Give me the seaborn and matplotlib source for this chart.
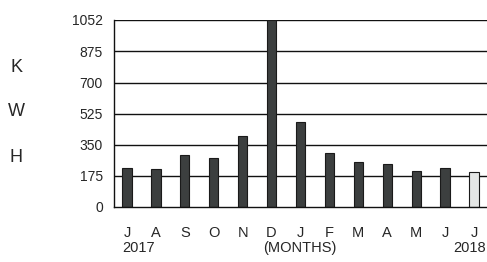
import matplotlib
matplotlib.use("Agg")
import matplotlib.pyplot as plt
import pandas as pd
import seaborn as sns

# 월별 사용량 (kWh)
months = ["Jul 2017", "Aug 2017", "Sep 2017", "Oct 2017", "Nov 2017", "Dec 2017",
          "Jan 2018", "Feb 2018", "Mar 2018", "Apr 2018", "May 2018", "Jun 2018", "Jul 2018"]
month_letters = ["J", "A", "S", "O", "N", "D", "J", "F", "M", "A", "M", "J", "J"]
kwh = [221, 214, 293, 274, 400, 1052, 477, 302, 252, 242, 203, 218, 195]
kind = ["actual"] * 12 + ["current"]
y_ticks = [0, 175, 350, 525, 700, 875, 1052]

df = pd.DataFrame({"month": months, "kwh": kwh, "kind": kind})

sns.set_style("white")
plt.rcParams["font.family"] = ["Liberation Sans", "DejaVu Sans"]

fig = plt.figure(figsize=(4.87, 2.62), dpi=100)
ax = fig.add_axes([0.234, 0.21, 0.766, 0.714])

sns.barplot(data=df, x="month", y="kwh", hue="kind", order=months,
            palette={"actual": "#3b403f", "current": "#e4e6e5"},
            width=0.32, edgecolor="#1a1a1a", linewidth=0.8, legend=False, ax=ax)

ax.set_ylim(0, 1052)
ax.set_xlim(-0.45, 12.45)
ax.set_yticks(y_ticks)
ax.set_yticklabels([str(v) for v in y_ticks], fontsize=10)
for v in y_ticks[1:]:
    ax.axhline(v, color="#111111", linewidth=1.0, zorder=0)

ax.set_xticks(range(len(months)))
ax.set_xticklabels(month_letters, fontsize=10.5)
ax.tick_params(axis="x", length=0, pad=14)
ax.tick_params(axis="y", length=0, pad=8)
ax.set_xlabel("")
ax.set_ylabel("")

for side in ["top", "right"]:
    ax.spines[side].set_visible(False)
ax.spines["left"].set_color("#111111")
ax.spines["bottom"].set_color("#111111")
ax.spines["left"].set_linewidth(1.0)
ax.spines["bottom"].set_linewidth(1.0)

# 연도 / 축 라벨
fig.text(122 / 487, 1 - 248 / 262, "2017", fontsize=10.5, ha="left", va="center")
fig.text(300 / 487, 1 - 248 / 262, "(MONTHS)", fontsize=10.5, ha="center", va="center")
fig.text(486 / 487, 1 - 248 / 262, "2018", fontsize=10.5, ha="right", va="center")

# 세로 단위 K W H
for letter, yy in zip(["K", "W", "H"], [67, 112, 158]):
    fig.text(16 / 487, 1 - yy / 262, letter, fontsize=13, ha="center", va="center")

fig.savefig("out.png", dpi=100)
